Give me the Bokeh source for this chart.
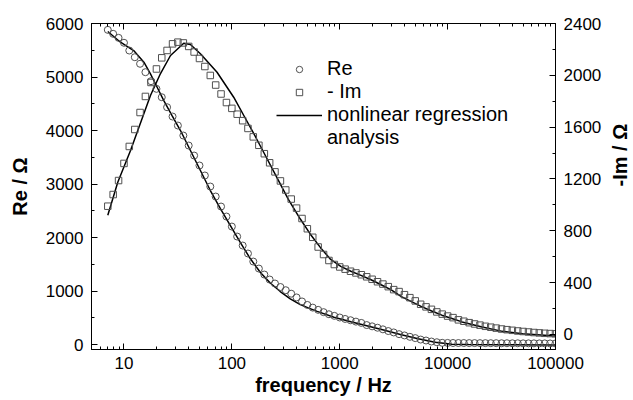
import math
from bokeh.plotting import figure
from bokeh.models import (Range1d, LinearAxis, LogAxis, FixedTicker,
                          CustomJSTickFormatter, Legend, LegendItem)
from bokeh.embed import file_html
from bokeh.resources import INLINE

# ---------------- data ----------------
freq = [7.08, 7.94, 8.91, 10.0, 11.2, 12.6, 14.1, 15.8, 17.8, 20.0,
        22.4, 25.1, 28.2, 31.6, 35.5, 39.8, 44.7, 50.1, 56.2, 63.1,
        70.8, 79.4, 89.1, 100, 112, 126, 141, 158, 178, 200,
        224, 251, 282, 316, 355, 398, 447, 501, 562, 631,
        708, 794, 891, 1000, 1122, 1259, 1413, 1585, 1778, 1995,
        2239, 2512, 2818, 3162, 3548, 3981, 4467, 5012, 5623, 6310,
        7079, 7943, 8913, 10000, 11220, 12589, 14125, 15849, 17783, 19953,
        22387, 25119, 28184, 31623, 35481, 39811, 44668, 50119, 56234, 63096,
        70795, 79433, 89125, 100000]

re_meas = [5881, 5807, 5732, 5640, 5495, 5370, 5247, 5090, 4922, 4779,
           4622, 4435, 4261, 4093, 3906, 3719, 3532, 3346, 3159, 2953,
           2766, 2579, 2392, 2205, 2018, 1850, 1701, 1551, 1420, 1308,
           1215, 1140, 1075, 1015, 950, 880, 805, 740, 690, 648,
           605, 566, 536, 505, 478, 454, 428, 404, 364, 340,
           314, 284, 252, 226, 194, 170, 144, 120, 93, 75,
           56, 43, 32, 30, 29, 28, 28, 27, 27, 26,
           26, 25, 25, 24, 24, 23, 23, 22, 22, 22,
           21, 21, 20, 20]

im_meas = [990, 1080, 1188, 1320, 1451, 1582, 1713, 1837, 1945, 2049,
           2135, 2192, 2243, 2256, 2250, 2223, 2180, 2130, 2068, 1999,
           1925, 1856, 1790, 1745, 1700, 1650, 1590, 1525, 1460, 1395,
           1325, 1255, 1185, 1115, 1045, 975, 895, 816, 750, 675,
           617, 571, 540, 521, 504, 488, 475, 461, 445, 426,
           407, 389, 369, 346, 331, 307, 284, 259, 233, 213,
           194, 174, 157, 142, 130, 113, 102, 91, 81, 72,
           63, 56, 49, 42, 37, 32, 27, 23, 19, 15,
           12, 9, 7, 5]

fit_re_freq = [7.08, 9.28, 12.3, 15.3, 17.6, 20.3, 23.4, 27.9, 33.4, 41.3,
               51.1, 63.2, 78.3, 96.9, 120, 148, 184, 227, 281, 348,
               431, 524, 618, 884, 1267, 1817, 2599, 3727, 5333, 7644,
               10960, 15680, 30630, 100000]
fit_re = [5850, 5650, 5495, 5276, 5059, 4809, 4560, 4280, 4000, 3626,
          3252, 2878, 2542, 2224, 1906, 1607, 1346, 1150, 990, 855,
          745, 675, 620, 510, 425, 346, 265, 183, 107, 43,
          6, 0, -2, -10]

fit_im_freq = [7.08, 8.76, 11.5, 14.7, 17.6, 21.8, 27.0, 35.8, 41.3, 51.1,
               72.9, 104, 129, 165, 209, 264, 334, 431, 534, 663,
               824, 1022, 1267, 1572, 1949, 2417, 3000, 3727, 4621, 5732,
               7112, 8836, 10960, 13600, 20860, 32240, 49600, 100000]
fit_im = [920, 1175, 1420, 1665, 1844, 2014, 2153, 2248, 2238, 2166,
          2024, 1831, 1690, 1528, 1366, 1204, 1042, 891, 774, 670,
          579, 526, 488, 456, 422, 384, 344, 292, 253, 215,
          181, 149, 123, 97, 58, 24, 6, -12]

x_major = [10, 100, 1000, 10000, 100000]
y_left_major = [0, 1000, 2000, 3000, 4000, 5000, 6000]
y_left_minor = [500, 1500, 2500, 3500, 4500, 5500]
y_right_major = [0, 400, 800, 1200, 1600, 2000, 2400]
y_right_minor = [200, 600, 1000, 1400, 1800, 2200]

FONT = "Liberation Sans"

x_minor = [m * 10 ** d for d in range(0, 5) for m in range(2, 10)
           if 5 <= m * 10 ** d <= 100000]

p = figure(frame_width=464, frame_height=326, x_axis_type="log",
           x_range=Range1d(5, 100000), y_range=Range1d(-93, 6000),
           output_backend="svg", toolbar_location=None,
           min_border_left=91, min_border_right=78,
           min_border_top=23, min_border_bottom=51)
p.extra_y_ranges = {"im": Range1d(-116, 2400)}
p.xgrid.visible = False
p.ygrid.visible = False
p.outline_line_color = "black"
p.outline_line_width = 1
p.background_fill_color = "white"
p.border_fill_color = "white"


def style(ax):
    ax.axis_line_color = "black"
    ax.axis_line_width = 1
    ax.major_tick_in = 6
    ax.major_tick_out = 0
    ax.minor_tick_in = 3
    ax.minor_tick_out = 0
    ax.major_tick_line_color = "black"
    ax.minor_tick_line_color = "black"
    ax.major_label_text_font = FONT
    ax.major_label_text_font_size = "17px"
    ax.major_label_text_color = "black"
    ax.axis_label_text_font = FONT
    ax.axis_label_text_font_style = "bold"
    ax.axis_label_text_font_size = "20px"
    ax.axis_label_text_color = "black"


xax = p.xaxis[0]
style(xax)
xax.ticker = FixedTicker(ticks=x_major, minor_ticks=x_minor)
xax.formatter = CustomJSTickFormatter(code="return tick.toFixed(0);")
xax.axis_label = "frequency / Hz"
xax.major_label_standoff = 7
xax.axis_label_standoff = 2

yax = p.yaxis[0]
style(yax)
yax.ticker = FixedTicker(ticks=y_left_major, minor_ticks=y_left_minor)
yax.axis_label = "Re / Ω"
yax.major_label_standoff = 8
yax.axis_label_standoff = 12

top = LogAxis(ticker=FixedTicker(ticks=x_major, minor_ticks=x_minor))
style(top)
top.major_label_text_font_size = "1px"
top.major_label_text_alpha = 0
top.major_label_standoff = 0
p.add_layout(top, "above")

right = LinearAxis(y_range_name="im",
                   ticker=FixedTicker(ticks=y_right_major, minor_ticks=y_right_minor))
style(right)
right.axis_label = "-Im / Ω"
right.major_label_standoff = 8
right.axis_label_standoff = 16
try:
    right.axis_label_orientation = math.pi / 2
except Exception:
    pass
p.add_layout(right, "right")

r_fit_re = p.line(fit_re_freq, fit_re, line_color="black", line_width=1.5)
r_fit_im = p.line(fit_im_freq, fit_im, line_color="black", line_width=1.5,
                  y_range_name="im")
r_re = p.scatter(freq, re_meas, marker="circle", size=7, fill_color=None,
                 line_color="#505050", line_width=1)
r_im = p.scatter(freq, im_meas, marker="square", size=6.5, fill_color=None,
                 line_color="#505050", line_width=1, y_range_name="im")
r_blank = p.line([], [], line_alpha=0)

legend = Legend(items=[
    LegendItem(label="Re", renderers=[r_re]),
    LegendItem(label="- Im", renderers=[r_im]),
    LegendItem(label="nonlinear regression", renderers=[r_fit_re]),
    LegendItem(label="analysis", renderers=[r_blank]),
], location=(185, 200))
legend.label_text_font = FONT
legend.label_text_font_size = "20px"
legend.label_text_color = "black"
legend.glyph_width = 46
legend.glyph_height = 16
legend.label_height = 20
legend.label_standoff = 5
legend.spacing = 0
legend.padding = 0
legend.margin = 0
legend.border_line_color = None
legend.background_fill_alpha = 0
p.add_layout(legend)

open("out.html", "w").write(file_html(p, INLINE))
